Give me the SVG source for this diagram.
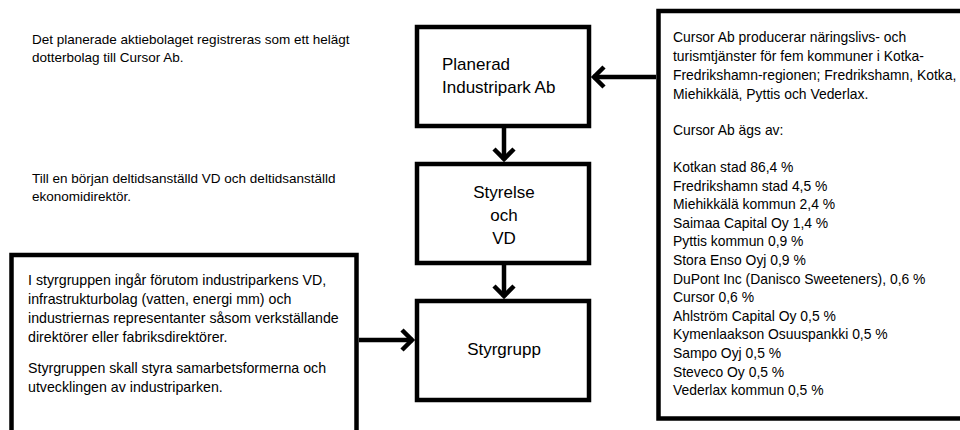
<svg xmlns="http://www.w3.org/2000/svg" width="960" height="430" viewBox="0 0 960 430">
<style>
.box{fill:#fff;stroke:#000;stroke-width:4.5}
.t{font-family:"Liberation Sans",Arial,sans-serif;font-size:13.5px;fill:#000}
.r{font-family:"Liberation Sans",Arial,sans-serif;font-size:13.9px;fill:#000}
.l{font-family:"Liberation Sans",Arial,sans-serif;font-size:14.2px;fill:#000}
.n{font-family:"Liberation Sans",Arial,sans-serif;font-size:17px;fill:#000}
.c{fill:none;stroke:#000;stroke-width:4.5}
</style>
<defs>
<marker id="arr" markerUnits="userSpaceOnUse" viewBox="-16 -13 20 26" markerWidth="20" markerHeight="26" refX="0" refY="0" orient="auto" overflow="visible">
<path d="M-11,-10 L-1,0 L-11,10" fill="none" stroke="#000" stroke-width="4.5" stroke-linejoin="miter"/>
</marker>
</defs>
<rect width="960" height="430" fill="#fff"/>
<g id="note-top">
<text class="t" x="32" y="44">Det planerade aktiebolaget registreras som ett helägt</text>
<text class="t" x="32" y="62">dotterbolag till Cursor Ab.</text>
</g>
<g id="note-vd">
<text class="t" x="32" y="183">Till en början deltidsanställd VD och deltidsanställd</text>
<text class="t" x="32" y="201">ekonomidirektör.</text>
</g>
<g id="planerad">
<rect class="box" x="417" y="27" width="172" height="99"/>
<text class="n" x="442" y="70">Planerad</text>
<text class="n" x="442" y="93">Industripark Ab</text>
</g>
<g id="styrelse">
<rect class="box" x="417" y="164" width="172" height="99"/>
<text class="n" x="504" y="198" text-anchor="middle">Styrelse</text>
<text class="n" x="504" y="221" text-anchor="middle">och</text>
<text class="n" x="504" y="244" text-anchor="middle">VD</text>
</g>
<g id="styrgrupp">
<rect class="box" x="417" y="301" width="172" height="99"/>
<text class="n" x="504" y="355" text-anchor="middle">Styrgrupp</text>
</g>
<g id="cursor">
<rect class="box" x="658.5" y="11" width="320" height="407.5"/>
<text class="r" x="673" y="42">Cursor Ab producerar näringslivs- och</text>
<text class="r" x="673" y="61">turismtjänster för fem kommuner i Kotka-</text>
<text class="r" x="673" y="80">Fredrikshamn-regionen; Fredrikshamn, Kotka,</text>
<text class="r" x="673" y="99">Miehikkälä, Pyttis och Vederlax.</text>
<text class="r" x="673" y="135">Cursor Ab ägs av:</text>
<text class="r" x="673" y="172">Kotkan stad 86,4 %</text>
<text class="r" x="673" y="190.6">Fredrikshamn stad 4,5 %</text>
<text class="r" x="673" y="209.2">Miehikkälä kommun 2,4 %</text>
<text class="r" x="673" y="227.8">Saimaa Capital Oy 1,4 %</text>
<text class="r" x="673" y="246.4">Pyttis kommun 0,9 %</text>
<text class="r" x="673" y="265">Stora Enso Oyj 0,9 %</text>
<text class="r" x="673" y="283.6">DuPont Inc (Danisco Sweeteners), 0,6 %</text>
<text class="r" x="673" y="302.2">Cursor 0,6 %</text>
<text class="r" x="673" y="320.8">Ahlström Capital Oy 0,5 %</text>
<text class="r" x="673" y="339.4">Kymenlaakson Osuuspankki 0,5 %</text>
<text class="r" x="673" y="358">Sampo Oyj 0,5 %</text>
<text class="r" x="673" y="376.6">Steveco Oy 0,5 %</text>
<text class="r" x="673" y="395.2">Vederlax kommun 0,5 %</text>
</g>
<g id="styrgrupp-note">
<rect class="box" x="11.5" y="255" width="345" height="220"/>
<text class="l" x="28" y="285">I styrgruppen ingår förutom industriparkens VD,</text>
<text class="l" x="28" y="304">infrastrukturbolag (vatten, energi mm) och</text>
<text class="l" x="28" y="323">industriernas representanter såsom verkställande</text>
<text class="l" x="28" y="342">direktörer eller fabriksdirektörer.</text>
<text class="l" x="28" y="373">Styrgruppen skall styra samarbetsformerna och</text>
<text class="l" x="28" y="392">utvecklingen av industriparken.</text>
</g>
<g id="connectors">
<line class="c" x1="504" y1="128" x2="504" y2="160" marker-end="url(#arr)"/>
<line class="c" x1="504" y1="265" x2="504" y2="297" marker-end="url(#arr)"/>
<line class="c" x1="656" y1="77" x2="593" y2="77" marker-end="url(#arr)"/>
<line class="c" x1="359" y1="340" x2="413" y2="340" marker-end="url(#arr)"/>
</g>
</svg>
